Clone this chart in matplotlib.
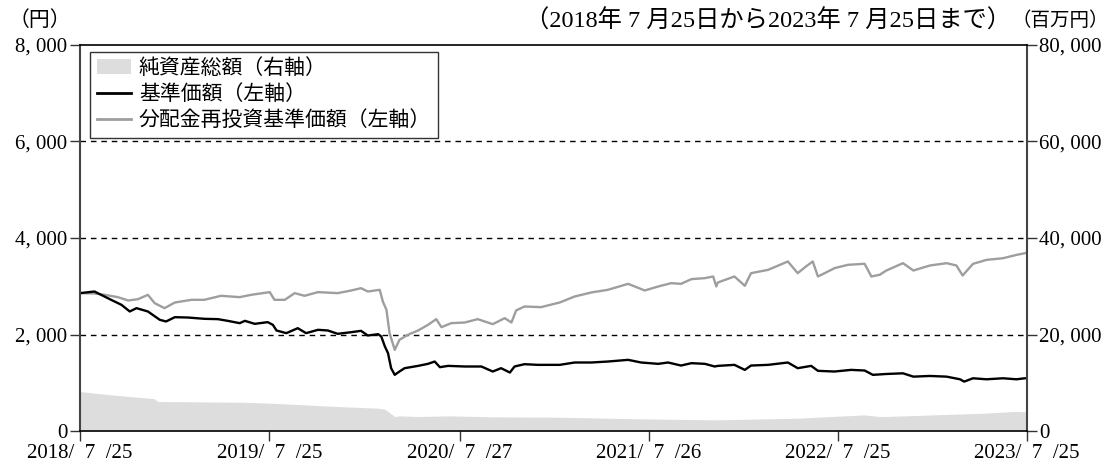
import numpy as np
import matplotlib
matplotlib.use('Agg')
import matplotlib.pyplot as plt
from matplotlib.patches import Patch
from matplotlib.lines import Line2D
from matplotlib.ticker import FuncFormatter

plt.rcParams['font.family'] = ['Liberation Serif', 'Noto Sans CJK JP']

# days counted from 2018/7/25
start = np.datetime64('2018-07-25')

nav_days = [0, 28, 60, 80, 96, 109, 131, 154, 166, 183, 208, 240, 266, 285, 308,
            318, 337, 362, 372, 379, 398, 420, 436, 459, 478, 497, 523, 542, 555,
            575, 581, 588, 594, 600, 607, 616,
            626, 652, 671, 684, 694, 710, 742, 774, 796, 812, 829, 838, 857, 883, 925,
            954, 986, 1018, 1057, 1082, 1115, 1134, 1159, 1179, 1205, 1224,
            1230, 1262, 1282, 1294, 1327, 1365, 1384, 1410, 1423, 1455, 1487, 1513, 1529,
            1555, 1587, 1607, 1639, 1671, 1697, 1705, 1722, 1748, 1780, 1806, 1822, 1826]
nav = [2857, 2891, 2719, 2615, 2477, 2546, 2477, 2304, 2270, 2359, 2352, 2325, 2318, 2283, 2235,
       2283, 2221, 2256, 2200, 2083, 2028, 2131, 2028, 2097, 2083, 2014, 2048, 2076, 1979,
       2007, 1959, 1751, 1613, 1302, 1164, 1233,
       1302, 1350, 1392, 1440, 1323, 1350, 1337, 1337, 1233, 1302, 1212, 1337, 1385, 1371, 1371,
       1420, 1420, 1440, 1475, 1420, 1392, 1420, 1357, 1406, 1392, 1337,
       1350, 1371, 1267, 1357, 1371, 1420, 1302, 1350, 1247, 1233, 1267, 1254, 1164,
       1182, 1196, 1127, 1141, 1127, 1072, 1024, 1093, 1072, 1093, 1072, 1093, 1093]

reinv_days = [0, 28, 48, 73, 93, 112, 131, 144, 163, 183, 215, 240, 272, 308,
              330, 366, 375, 395, 414, 433, 459, 497, 523, 542, 555, 578, 584, 591,
              597, 607, 616,
              632, 652, 671, 687, 697, 716, 742, 767, 796, 819, 832, 841, 857, 889, 925,
              954, 986, 1018, 1057, 1089, 1115, 1140, 1159, 1179, 1205, 1221, 1227,
              1230, 1262, 1282, 1294, 1327, 1365, 1384, 1400, 1413, 1423, 1436, 1455,
              1481, 1513, 1526, 1542,
              1555, 1587, 1607, 1639, 1671, 1690, 1702, 1722, 1748, 1780, 1806, 1822, 1826]
reinv = [2857, 2850, 2822, 2774, 2705, 2732, 2822, 2650, 2546, 2663, 2719, 2719, 2802, 2774,
         2822, 2878, 2719, 2719, 2857, 2802, 2878, 2857, 2912, 2960, 2891, 2926, 2684, 2511,
         2028, 1682, 1889,
         1993, 2083, 2200, 2318, 2152, 2235, 2249, 2318, 2214, 2339, 2249, 2498, 2580, 2567, 2663,
         2788, 2871, 2926, 3050, 2912, 2995, 3064, 3050, 3147, 3168, 3202, 2995,
         3078, 3202, 3009, 3271, 3340, 3513, 3271, 3410, 3513, 3202, 3271, 3375,
         3444, 3465, 3202, 3237,
         3326, 3478, 3326, 3430, 3478, 3430, 3223, 3464, 3546, 3581, 3650, 3684, 3700]

asset_days = [0, 60, 112, 143, 150, 308, 369, 433, 497, 575, 588, 594, 607, 616,
              652, 710, 800, 925, 1082, 1224, 1384, 1513, 1542, 1555, 1652, 1748, 1803, 1826]
assets = [8180, 7490, 7000, 6700, 6110, 5970, 5760, 5420, 5070, 4730, 4500, 4040, 3000, 3140,
          3000, 3140, 2930, 2860, 2520, 2310, 2660, 3340, 3000, 3020, 3370, 3710, 4060, 3990]

tick_dates = ['2018-07-25', '2019-07-25', '2020-07-27', '2021-07-26', '2022-07-25', '2023-07-25']
tick_labels = ['2018/\u20027\u2002/25', '2019/\u20027\u2002/25', '2020/\u20027\u2002/27',
               '2021/\u20027\u2002/26', '2022/\u20027\u2002/25', '2023/\u20027\u2002/25']


def to_dates(days):
    return start + np.array(days).astype('timedelta64[D]')


def comma_fmt(v, pos):
    return f"{int(round(v)):,}".replace(",", ", ")


fig = plt.figure(figsize=(11.09, 4.68), dpi=100)
ax = fig.add_axes([0.0721, 0.079, 0.8539, 0.825])
ax_r = ax.twinx()
ax.set_zorder(ax_r.get_zorder() + 1)
ax.patch.set_visible(False)

ax_r.fill_between(to_dates(asset_days), assets, 0, color='#dcdddc', lw=0)
ax.plot(to_dates(reinv_days), reinv, color='#9e9e9e', lw=1.7)
ax.plot(to_dates(nav_days), nav, color='black', lw=1.7)

ax.set_xlim(np.datetime64('2018-07-25'), np.datetime64('2023-07-25'))
ax.set_ylim(0, 8000)
ax_r.set_ylim(0, 80000)
ax.set_yticks([0, 2000, 4000, 6000, 8000])
ax_r.set_yticks([0, 20000, 40000, 60000, 80000])
ax.yaxis.set_major_formatter(FuncFormatter(comma_fmt))
ax_r.yaxis.set_major_formatter(FuncFormatter(comma_fmt))
ax.set_xticks(np.array(tick_dates, dtype='datetime64[D]'))
ax.set_xticklabels(tick_labels)

for a in (ax, ax_r):
    a.tick_params(labelsize=15, length=7, width=1, pad=2, color='#333333')
    for s in a.spines.values():
        s.set_visible(False)

for side in ['top', 'bottom', 'left', 'right']:
    ax.spines[side].set_visible(True)
ax.spines['top'].set_linewidth(1.2)
ax.spines['bottom'].set_linewidth(1.2)
ax.spines['left'].set_color('#444444')
ax.spines['right'].set_color('#444444')
ax.spines['left'].set_linewidth(1.5)
ax.spines['right'].set_linewidth(1.5)

for y in [2000, 4000, 6000]:
    ax.axhline(y, color='black', lw=1, ls=(0, (4, 3.5)), zorder=1)

handles = [Patch(facecolor='#dcdddc', edgecolor='none'),
           Line2D([], [], color='black', lw=2),
           Line2D([], [], color='#9e9e9e', lw=2)]
labels = ['純資産総額（右軸）', '基準価額（左軸）', '分配金再投資基準価額（左軸）']
leg = ax.legend(handles, labels, loc='upper left', bbox_to_anchor=(0.0106, 0.982),
                fontsize=15, frameon=True, fancybox=False, edgecolor='black',
                borderpad=0.35, labelspacing=0.3, handlelength=1.6, handletextpad=0.4,
                borderaxespad=0)
leg.get_frame().set_linewidth(1)

fig.text(0.036, 0.955, '（円）', fontsize=15, ha='center', va='center')
fig.text(0.912, 0.955, '（2018年 7 月25日から2023年 7 月25日まで）',
         fontsize=17.5, ha='right', va='center')
fig.text(0.956, 0.955, '（百万円）', fontsize=14, ha='center', va='center')

fig.savefig('out.png', dpi=100)
